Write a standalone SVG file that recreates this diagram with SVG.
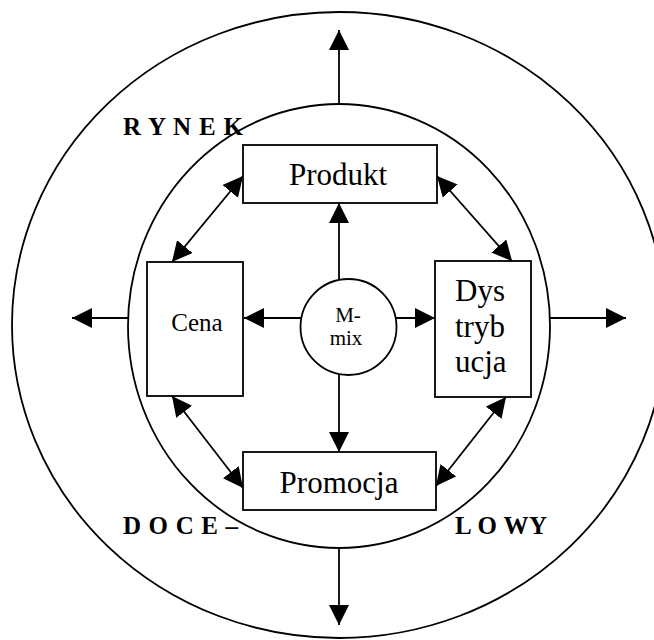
<svg xmlns="http://www.w3.org/2000/svg" width="654" height="640" viewBox="0 0 654 640">
<style>
.ring{fill:none;stroke:#000;stroke-width:1.8}
.box{fill:#fff;stroke:#000;stroke-width:1.8}
.ln{fill:none;stroke:#000;stroke-width:1.8}
.arr{marker-end:url(#ah)}
.dbl{marker-start:url(#ah);marker-end:url(#ah)}
.t{font-family:"Liberation Serif","Times New Roman","DejaVu Serif",serif;fill:#000}
.b{font-family:"Liberation Serif","Times New Roman","DejaVu Serif",serif;font-weight:bold;fill:#000;font-size:25px}
</style>
<defs>
<marker id="ah" markerUnits="userSpaceOnUse" markerWidth="20" markerHeight="20" refX="20" refY="10" orient="auto-start-reverse" viewBox="0 0 20 20">
<path d="M0,0 L20,10 L0,20 z" fill="#000"/>
</marker>
</defs>
<rect width="654" height="640" fill="#fff"/>
<g id="rynek-outer"><ellipse class="ring" cx="339" cy="325" rx="327" ry="313"/></g>
<g id="rynek-inner"><ellipse class="ring" cx="339" cy="326" rx="211" ry="222"/></g>
<g id="connectors">
<line class="ln arr" x1="339" y1="104" x2="339" y2="30"/>
<line class="ln arr" x1="339" y1="548" x2="339" y2="625"/>
<line class="ln arr" x1="128" y1="318" x2="72" y2="318"/>
<line class="ln arr" x1="550" y1="318" x2="626" y2="318"/>
<line class="ln arr" x1="339" y1="280" x2="339" y2="203"/>
<line class="ln arr" x1="339" y1="374" x2="339" y2="452"/>
<line class="ln arr" x1="301" y1="318" x2="244" y2="318"/>
<line class="ln arr" x1="396" y1="318" x2="435" y2="318"/>
<line class="ln dbl" x1="172" y1="262" x2="243" y2="176"/>
<line class="ln dbl" x1="437" y1="176" x2="512" y2="261"/>
<line class="ln dbl" x1="172" y1="396" x2="243" y2="488"/>
<line class="ln dbl" x1="506" y1="397" x2="436" y2="486"/>
</g>
<g id="produkt"><rect class="box" x="243" y="145" width="194" height="58"/><text class="t" x="338" y="185" font-size="31" text-anchor="middle">Produkt</text></g>
<g id="promocja"><rect class="box" x="243" y="452" width="193" height="58"/><text class="t" x="339" y="493" font-size="31" text-anchor="middle">Promocja</text></g>
<g id="cena"><rect class="box" x="147" y="262" width="96" height="134"/><text class="t" x="197" y="331" font-size="25" text-anchor="middle">Cena</text></g>
<g id="dystrybucja"><rect class="box" x="435" y="261" width="96" height="136"/><text class="t" font-size="31"><tspan x="455" y="301">Dys</tspan><tspan x="455" y="337">tryb</tspan><tspan x="455" y="372">ucja</tspan></text></g>
<g id="m-mix"><circle class="box" cx="348.5" cy="327" r="48"/><text class="t" font-size="21" text-anchor="middle"><tspan x="348" y="322">M-</tspan><tspan x="346" y="345">mix</tspan></text></g>
<g id="labels">
<text class="b" x="123" y="135" textLength="120" lengthAdjust="spacing">R Y N E K</text>
<text class="b" x="123" y="534" textLength="115" lengthAdjust="spacing">D O C E –</text>
<text class="b" x="455" y="534" textLength="92" lengthAdjust="spacing">L O WY</text>
</g>
</svg>
